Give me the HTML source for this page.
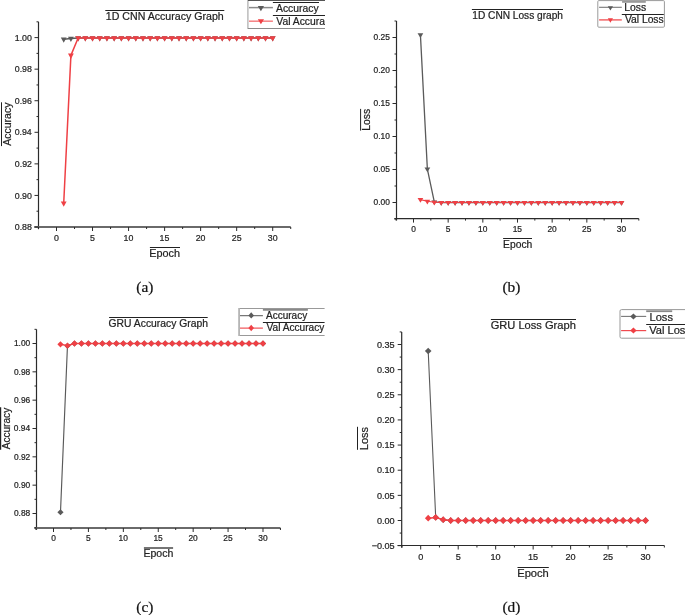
<!DOCTYPE html>
<html><head><meta charset="utf-8"><style>
html,body{margin:0;padding:0;background:#fff;}
body{width:685px;height:615px;overflow:hidden;}
svg{display:block;will-change:transform;}
text{stroke:#2a2a2a;stroke-width:0.22px;paint-order:stroke;}
</style></head><body>
<svg width="685" height="615" viewBox="0 0 685 615">
<defs><clipPath id="clipA"><rect x="0" y="0" width="325" height="40"/></clipPath>
<clipPath id="clipC"><rect x="0" y="300" width="324.6" height="40"/></clipPath></defs>
<rect width="685" height="615" fill="#fff"/>
<polyline points="63.71,39.26 70.91,38.47 78.12,38.00 85.33,38.00 92.53,38.00 99.74,38.00 106.95,38.00 114.16,38.00 121.36,38.00 128.57,38.00 135.78,38.00 142.98,38.00 150.19,38.00 157.40,38.00 164.61,38.00 171.81,38.00 179.02,38.00 186.23,38.00 193.43,38.00 200.64,38.00 207.85,38.00 215.05,38.00 222.26,38.00 229.47,38.00 236.67,38.00 243.88,38.00 251.09,38.00 258.30,38.00 265.50,38.00 272.71,38.00" fill="none" stroke="#5a5a5a" stroke-width="1.5" stroke-linejoin="round"/>
<path d="M60.81 37.46L66.61 37.46L63.71 42.86Z" fill="#5a5a5a"/>
<path d="M68.01 36.67L73.81 36.67L70.91 42.07Z" fill="#5a5a5a"/>
<path d="M75.22 36.20L81.02 36.20L78.12 41.60Z" fill="#5a5a5a"/>
<path d="M82.43 36.20L88.23 36.20L85.33 41.60Z" fill="#5a5a5a"/>
<path d="M89.63 36.20L95.44 36.20L92.53 41.60Z" fill="#5a5a5a"/>
<path d="M96.84 36.20L102.64 36.20L99.74 41.60Z" fill="#5a5a5a"/>
<path d="M104.05 36.20L109.85 36.20L106.95 41.60Z" fill="#5a5a5a"/>
<path d="M111.26 36.20L117.06 36.20L114.16 41.60Z" fill="#5a5a5a"/>
<path d="M118.46 36.20L124.26 36.20L121.36 41.60Z" fill="#5a5a5a"/>
<path d="M125.67 36.20L131.47 36.20L128.57 41.60Z" fill="#5a5a5a"/>
<path d="M132.88 36.20L138.68 36.20L135.78 41.60Z" fill="#5a5a5a"/>
<path d="M140.08 36.20L145.88 36.20L142.98 41.60Z" fill="#5a5a5a"/>
<path d="M147.29 36.20L153.09 36.20L150.19 41.60Z" fill="#5a5a5a"/>
<path d="M154.50 36.20L160.30 36.20L157.40 41.60Z" fill="#5a5a5a"/>
<path d="M161.71 36.20L167.51 36.20L164.61 41.60Z" fill="#5a5a5a"/>
<path d="M168.91 36.20L174.71 36.20L171.81 41.60Z" fill="#5a5a5a"/>
<path d="M176.12 36.20L181.92 36.20L179.02 41.60Z" fill="#5a5a5a"/>
<path d="M183.33 36.20L189.13 36.20L186.23 41.60Z" fill="#5a5a5a"/>
<path d="M190.53 36.20L196.33 36.20L193.43 41.60Z" fill="#5a5a5a"/>
<path d="M197.74 36.20L203.54 36.20L200.64 41.60Z" fill="#5a5a5a"/>
<path d="M204.95 36.20L210.75 36.20L207.85 41.60Z" fill="#5a5a5a"/>
<path d="M212.15 36.20L217.95 36.20L215.05 41.60Z" fill="#5a5a5a"/>
<path d="M219.36 36.20L225.16 36.20L222.26 41.60Z" fill="#5a5a5a"/>
<path d="M226.57 36.20L232.37 36.20L229.47 41.60Z" fill="#5a5a5a"/>
<path d="M233.77 36.20L239.57 36.20L236.67 41.60Z" fill="#5a5a5a"/>
<path d="M240.98 36.20L246.78 36.20L243.88 41.60Z" fill="#5a5a5a"/>
<path d="M248.19 36.20L253.99 36.20L251.09 41.60Z" fill="#5a5a5a"/>
<path d="M255.40 36.20L261.20 36.20L258.30 41.60Z" fill="#5a5a5a"/>
<path d="M262.60 36.20L268.40 36.20L265.50 41.60Z" fill="#5a5a5a"/>
<path d="M269.81 36.20L275.61 36.20L272.71 41.60Z" fill="#5a5a5a"/>
<polyline points="63.71,203.25 70.91,55.36 78.12,38.00 85.33,38.00 92.53,38.00 99.74,38.00 106.95,38.00 114.16,38.00 121.36,38.00 128.57,38.00 135.78,38.00 142.98,38.00 150.19,38.00 157.40,38.00 164.61,38.00 171.81,38.00 179.02,38.00 186.23,38.00 193.43,38.00 200.64,38.00 207.85,38.00 215.05,38.00 222.26,38.00 229.47,38.00 236.67,38.00 243.88,38.00 251.09,38.00 258.30,38.00 265.50,38.00 272.71,38.00" fill="none" stroke="#ef4045" stroke-width="1.5" stroke-linejoin="round"/>
<path d="M60.81 201.45L66.61 201.45L63.71 206.85Z" fill="#ef4045"/>
<path d="M68.01 53.56L73.81 53.56L70.91 58.96Z" fill="#ef4045"/>
<path d="M75.22 36.20L81.02 36.20L78.12 41.60Z" fill="#ef4045"/>
<path d="M82.43 36.20L88.23 36.20L85.33 41.60Z" fill="#ef4045"/>
<path d="M89.63 36.20L95.44 36.20L92.53 41.60Z" fill="#ef4045"/>
<path d="M96.84 36.20L102.64 36.20L99.74 41.60Z" fill="#ef4045"/>
<path d="M104.05 36.20L109.85 36.20L106.95 41.60Z" fill="#ef4045"/>
<path d="M111.26 36.20L117.06 36.20L114.16 41.60Z" fill="#ef4045"/>
<path d="M118.46 36.20L124.26 36.20L121.36 41.60Z" fill="#ef4045"/>
<path d="M125.67 36.20L131.47 36.20L128.57 41.60Z" fill="#ef4045"/>
<path d="M132.88 36.20L138.68 36.20L135.78 41.60Z" fill="#ef4045"/>
<path d="M140.08 36.20L145.88 36.20L142.98 41.60Z" fill="#ef4045"/>
<path d="M147.29 36.20L153.09 36.20L150.19 41.60Z" fill="#ef4045"/>
<path d="M154.50 36.20L160.30 36.20L157.40 41.60Z" fill="#ef4045"/>
<path d="M161.71 36.20L167.51 36.20L164.61 41.60Z" fill="#ef4045"/>
<path d="M168.91 36.20L174.71 36.20L171.81 41.60Z" fill="#ef4045"/>
<path d="M176.12 36.20L181.92 36.20L179.02 41.60Z" fill="#ef4045"/>
<path d="M183.33 36.20L189.13 36.20L186.23 41.60Z" fill="#ef4045"/>
<path d="M190.53 36.20L196.33 36.20L193.43 41.60Z" fill="#ef4045"/>
<path d="M197.74 36.20L203.54 36.20L200.64 41.60Z" fill="#ef4045"/>
<path d="M204.95 36.20L210.75 36.20L207.85 41.60Z" fill="#ef4045"/>
<path d="M212.15 36.20L217.95 36.20L215.05 41.60Z" fill="#ef4045"/>
<path d="M219.36 36.20L225.16 36.20L222.26 41.60Z" fill="#ef4045"/>
<path d="M226.57 36.20L232.37 36.20L229.47 41.60Z" fill="#ef4045"/>
<path d="M233.77 36.20L239.57 36.20L236.67 41.60Z" fill="#ef4045"/>
<path d="M240.98 36.20L246.78 36.20L243.88 41.60Z" fill="#ef4045"/>
<path d="M248.19 36.20L253.99 36.20L251.09 41.60Z" fill="#ef4045"/>
<path d="M255.40 36.20L261.20 36.20L258.30 41.60Z" fill="#ef4045"/>
<path d="M262.60 36.20L268.40 36.20L265.50 41.60Z" fill="#ef4045"/>
<path d="M269.81 36.20L275.61 36.20L272.71 41.60Z" fill="#ef4045"/>
<line x1="38.50" y1="21.82" x2="38.50" y2="229.20" stroke="#2b2b2b" stroke-width="1.2"/>
<line x1="34.30" y1="227.00" x2="290.73" y2="227.00" stroke="#6a6a6a" stroke-width="2"/>
<line x1="34.50" y1="227.00" x2="38.50" y2="227.00" stroke="#2b2b2b" stroke-width="1"/>
<text x="14.74" y="230.08" font-family="Liberation Sans" font-size="8.80" fill="#222">0.88</text>
<line x1="36.50" y1="211.21" x2="38.50" y2="211.21" stroke="#2b2b2b" stroke-width="1"/>
<line x1="34.50" y1="195.43" x2="38.50" y2="195.43" stroke="#2b2b2b" stroke-width="1"/>
<text x="14.74" y="198.51" font-family="Liberation Sans" font-size="8.80" fill="#222">0.90</text>
<line x1="36.50" y1="179.65" x2="38.50" y2="179.65" stroke="#2b2b2b" stroke-width="1"/>
<line x1="34.50" y1="163.86" x2="38.50" y2="163.86" stroke="#2b2b2b" stroke-width="1"/>
<text x="14.82" y="166.94" font-family="Liberation Sans" font-size="8.80" fill="#222">0.92</text>
<line x1="36.50" y1="148.08" x2="38.50" y2="148.08" stroke="#2b2b2b" stroke-width="1"/>
<line x1="34.50" y1="132.30" x2="38.50" y2="132.30" stroke="#2b2b2b" stroke-width="1"/>
<text x="14.65" y="135.38" font-family="Liberation Sans" font-size="8.80" fill="#222">0.94</text>
<line x1="36.50" y1="116.52" x2="38.50" y2="116.52" stroke="#2b2b2b" stroke-width="1"/>
<line x1="34.50" y1="100.73" x2="38.50" y2="100.73" stroke="#2b2b2b" stroke-width="1"/>
<text x="14.78" y="103.81" font-family="Liberation Sans" font-size="8.80" fill="#222">0.96</text>
<line x1="36.50" y1="84.95" x2="38.50" y2="84.95" stroke="#2b2b2b" stroke-width="1"/>
<line x1="34.50" y1="69.17" x2="38.50" y2="69.17" stroke="#2b2b2b" stroke-width="1"/>
<text x="14.74" y="72.25" font-family="Liberation Sans" font-size="8.80" fill="#222">0.98</text>
<line x1="36.50" y1="53.38" x2="38.50" y2="53.38" stroke="#2b2b2b" stroke-width="1"/>
<line x1="34.50" y1="37.60" x2="38.50" y2="37.60" stroke="#2b2b2b" stroke-width="1"/>
<text x="14.74" y="40.68" font-family="Liberation Sans" font-size="8.80" fill="#222">1.00</text>
<line x1="36.50" y1="21.82" x2="38.50" y2="21.82" stroke="#2b2b2b" stroke-width="1"/>
<line x1="38.48" y1="227.00" x2="38.48" y2="229.00" stroke="#2b2b2b" stroke-width="1"/>
<line x1="56.50" y1="227.00" x2="56.50" y2="231.00" stroke="#2b2b2b" stroke-width="1"/>
<text x="54.06" y="240.50" font-family="Liberation Sans" font-size="8.80" fill="#222">0</text>
<line x1="74.52" y1="227.00" x2="74.52" y2="229.00" stroke="#2b2b2b" stroke-width="1"/>
<line x1="92.53" y1="227.00" x2="92.53" y2="231.00" stroke="#2b2b2b" stroke-width="1"/>
<text x="90.09" y="240.50" font-family="Liberation Sans" font-size="8.80" fill="#222">5</text>
<line x1="110.55" y1="227.00" x2="110.55" y2="229.00" stroke="#2b2b2b" stroke-width="1"/>
<line x1="128.57" y1="227.00" x2="128.57" y2="231.00" stroke="#2b2b2b" stroke-width="1"/>
<text x="123.53" y="240.50" font-family="Liberation Sans" font-size="8.80" fill="#222">10</text>
<line x1="146.59" y1="227.00" x2="146.59" y2="229.00" stroke="#2b2b2b" stroke-width="1"/>
<line x1="164.61" y1="227.00" x2="164.61" y2="231.00" stroke="#2b2b2b" stroke-width="1"/>
<text x="159.57" y="240.50" font-family="Liberation Sans" font-size="8.80" fill="#222">15</text>
<line x1="182.62" y1="227.00" x2="182.62" y2="229.00" stroke="#2b2b2b" stroke-width="1"/>
<line x1="200.64" y1="227.00" x2="200.64" y2="231.00" stroke="#2b2b2b" stroke-width="1"/>
<text x="195.71" y="240.50" font-family="Liberation Sans" font-size="8.80" fill="#222">20</text>
<line x1="218.66" y1="227.00" x2="218.66" y2="229.00" stroke="#2b2b2b" stroke-width="1"/>
<line x1="236.67" y1="227.00" x2="236.67" y2="231.00" stroke="#2b2b2b" stroke-width="1"/>
<text x="231.75" y="240.50" font-family="Liberation Sans" font-size="8.80" fill="#222">25</text>
<line x1="254.69" y1="227.00" x2="254.69" y2="229.00" stroke="#2b2b2b" stroke-width="1"/>
<line x1="272.71" y1="227.00" x2="272.71" y2="231.00" stroke="#2b2b2b" stroke-width="1"/>
<text x="267.83" y="240.50" font-family="Liberation Sans" font-size="8.80" fill="#222">30</text>
<line x1="290.73" y1="227.00" x2="290.73" y2="229.00" stroke="#2b2b2b" stroke-width="1"/>
<polyline points="420.43,34.86 427.37,169.17 434.30,201.97 441.23,202.50 448.17,202.50 455.10,202.50 462.03,202.50 468.96,202.50 475.90,202.50 482.83,202.50 489.76,202.50 496.70,202.50 503.63,202.50 510.56,202.50 517.50,202.50 524.43,202.50 531.36,202.50 538.29,202.50 545.23,202.50 552.16,202.50 559.09,202.50 566.03,202.50 572.96,202.50 579.89,202.50 586.83,202.50 593.76,202.50 600.69,202.50 607.62,202.50 614.56,202.50 621.49,202.50" fill="none" stroke="#5a5a5a" stroke-width="1.3" stroke-linejoin="round"/>
<path d="M417.58 33.29L423.28 33.29L420.43 37.99Z" fill="#5a5a5a"/>
<path d="M424.52 167.60L430.22 167.60L427.37 172.30Z" fill="#5a5a5a"/>
<path d="M431.45 200.41L437.15 200.41L434.30 205.11Z" fill="#5a5a5a"/>
<path d="M438.38 200.93L444.08 200.93L441.23 205.63Z" fill="#5a5a5a"/>
<path d="M445.31 200.93L451.02 200.93L448.17 205.63Z" fill="#5a5a5a"/>
<path d="M452.25 200.93L457.95 200.93L455.10 205.63Z" fill="#5a5a5a"/>
<path d="M459.18 200.93L464.88 200.93L462.03 205.63Z" fill="#5a5a5a"/>
<path d="M466.11 200.93L471.81 200.93L468.96 205.63Z" fill="#5a5a5a"/>
<path d="M473.05 200.93L478.75 200.93L475.90 205.63Z" fill="#5a5a5a"/>
<path d="M479.98 200.93L485.68 200.93L482.83 205.63Z" fill="#5a5a5a"/>
<path d="M486.91 200.93L492.61 200.93L489.76 205.63Z" fill="#5a5a5a"/>
<path d="M493.85 200.93L499.55 200.93L496.70 205.63Z" fill="#5a5a5a"/>
<path d="M500.78 200.93L506.48 200.93L503.63 205.63Z" fill="#5a5a5a"/>
<path d="M507.71 200.93L513.41 200.93L510.56 205.63Z" fill="#5a5a5a"/>
<path d="M514.64 200.93L520.35 200.93L517.50 205.63Z" fill="#5a5a5a"/>
<path d="M521.58 200.93L527.28 200.93L524.43 205.63Z" fill="#5a5a5a"/>
<path d="M528.51 200.93L534.21 200.93L531.36 205.63Z" fill="#5a5a5a"/>
<path d="M535.44 200.93L541.14 200.93L538.29 205.63Z" fill="#5a5a5a"/>
<path d="M542.38 200.93L548.08 200.93L545.23 205.63Z" fill="#5a5a5a"/>
<path d="M549.31 200.93L555.01 200.93L552.16 205.63Z" fill="#5a5a5a"/>
<path d="M556.24 200.93L561.94 200.93L559.09 205.63Z" fill="#5a5a5a"/>
<path d="M563.18 200.93L568.88 200.93L566.03 205.63Z" fill="#5a5a5a"/>
<path d="M570.11 200.93L575.81 200.93L572.96 205.63Z" fill="#5a5a5a"/>
<path d="M577.04 200.93L582.74 200.93L579.89 205.63Z" fill="#5a5a5a"/>
<path d="M583.98 200.93L589.68 200.93L586.83 205.63Z" fill="#5a5a5a"/>
<path d="M590.91 200.93L596.61 200.93L593.76 205.63Z" fill="#5a5a5a"/>
<path d="M597.84 200.93L603.54 200.93L600.69 205.63Z" fill="#5a5a5a"/>
<path d="M604.77 200.93L610.47 200.93L607.62 205.63Z" fill="#5a5a5a"/>
<path d="M611.71 200.93L617.41 200.93L614.56 205.63Z" fill="#5a5a5a"/>
<path d="M618.64 200.93L624.34 200.93L621.49 205.63Z" fill="#5a5a5a"/>
<polyline points="420.43,199.66 427.37,201.31 434.30,202.30 441.23,202.50 448.17,202.50 455.10,202.50 462.03,202.50 468.96,202.50 475.90,202.50 482.83,202.50 489.76,202.50 496.70,202.50 503.63,202.50 510.56,202.50 517.50,202.50 524.43,202.50 531.36,202.50 538.29,202.50 545.23,202.50 552.16,202.50 559.09,202.50 566.03,202.50 572.96,202.50 579.89,202.50 586.83,202.50 593.76,202.50 600.69,202.50 607.62,202.50 614.56,202.50 621.49,202.50" fill="none" stroke="#ef4045" stroke-width="1.1" stroke-linejoin="round"/>
<path d="M417.58 198.10L423.28 198.10L420.43 202.80Z" fill="#ef4045"/>
<path d="M424.52 199.75L430.22 199.75L427.37 204.45Z" fill="#ef4045"/>
<path d="M431.45 200.74L437.15 200.74L434.30 205.44Z" fill="#ef4045"/>
<path d="M438.38 200.93L444.08 200.93L441.23 205.63Z" fill="#ef4045"/>
<path d="M445.31 200.93L451.02 200.93L448.17 205.63Z" fill="#ef4045"/>
<path d="M452.25 200.93L457.95 200.93L455.10 205.63Z" fill="#ef4045"/>
<path d="M459.18 200.93L464.88 200.93L462.03 205.63Z" fill="#ef4045"/>
<path d="M466.11 200.93L471.81 200.93L468.96 205.63Z" fill="#ef4045"/>
<path d="M473.05 200.93L478.75 200.93L475.90 205.63Z" fill="#ef4045"/>
<path d="M479.98 200.93L485.68 200.93L482.83 205.63Z" fill="#ef4045"/>
<path d="M486.91 200.93L492.61 200.93L489.76 205.63Z" fill="#ef4045"/>
<path d="M493.85 200.93L499.55 200.93L496.70 205.63Z" fill="#ef4045"/>
<path d="M500.78 200.93L506.48 200.93L503.63 205.63Z" fill="#ef4045"/>
<path d="M507.71 200.93L513.41 200.93L510.56 205.63Z" fill="#ef4045"/>
<path d="M514.64 200.93L520.35 200.93L517.50 205.63Z" fill="#ef4045"/>
<path d="M521.58 200.93L527.28 200.93L524.43 205.63Z" fill="#ef4045"/>
<path d="M528.51 200.93L534.21 200.93L531.36 205.63Z" fill="#ef4045"/>
<path d="M535.44 200.93L541.14 200.93L538.29 205.63Z" fill="#ef4045"/>
<path d="M542.38 200.93L548.08 200.93L545.23 205.63Z" fill="#ef4045"/>
<path d="M549.31 200.93L555.01 200.93L552.16 205.63Z" fill="#ef4045"/>
<path d="M556.24 200.93L561.94 200.93L559.09 205.63Z" fill="#ef4045"/>
<path d="M563.18 200.93L568.88 200.93L566.03 205.63Z" fill="#ef4045"/>
<path d="M570.11 200.93L575.81 200.93L572.96 205.63Z" fill="#ef4045"/>
<path d="M577.04 200.93L582.74 200.93L579.89 205.63Z" fill="#ef4045"/>
<path d="M583.98 200.93L589.68 200.93L586.83 205.63Z" fill="#ef4045"/>
<path d="M590.91 200.93L596.61 200.93L593.76 205.63Z" fill="#ef4045"/>
<path d="M597.84 200.93L603.54 200.93L600.69 205.63Z" fill="#ef4045"/>
<path d="M604.77 200.93L610.47 200.93L607.62 205.63Z" fill="#ef4045"/>
<path d="M611.71 200.93L617.41 200.93L614.56 205.63Z" fill="#ef4045"/>
<path d="M618.64 200.93L624.34 200.93L621.49 205.63Z" fill="#ef4045"/>
<line x1="396.50" y1="21.00" x2="396.50" y2="220.40" stroke="#2b2b2b" stroke-width="1.2"/>
<line x1="394.30" y1="218.60" x2="638.82" y2="218.60" stroke="#2b2b2b" stroke-width="1.2"/>
<line x1="394.50" y1="219.00" x2="396.50" y2="219.00" stroke="#2b2b2b" stroke-width="1"/>
<line x1="392.50" y1="202.50" x2="396.50" y2="202.50" stroke="#2b2b2b" stroke-width="1"/>
<text x="373.60" y="205.44" font-family="Liberation Sans" font-size="8.40" fill="#222">0.00</text>
<line x1="394.50" y1="186.00" x2="396.50" y2="186.00" stroke="#2b2b2b" stroke-width="1"/>
<line x1="392.50" y1="169.50" x2="396.50" y2="169.50" stroke="#2b2b2b" stroke-width="1"/>
<text x="373.60" y="172.44" font-family="Liberation Sans" font-size="8.40" fill="#222">0.05</text>
<line x1="394.50" y1="153.00" x2="396.50" y2="153.00" stroke="#2b2b2b" stroke-width="1"/>
<line x1="392.50" y1="136.50" x2="396.50" y2="136.50" stroke="#2b2b2b" stroke-width="1"/>
<text x="373.60" y="139.44" font-family="Liberation Sans" font-size="8.40" fill="#222">0.10</text>
<line x1="394.50" y1="120.00" x2="396.50" y2="120.00" stroke="#2b2b2b" stroke-width="1"/>
<line x1="392.50" y1="103.50" x2="396.50" y2="103.50" stroke="#2b2b2b" stroke-width="1"/>
<text x="373.60" y="106.44" font-family="Liberation Sans" font-size="8.40" fill="#222">0.15</text>
<line x1="394.50" y1="87.00" x2="396.50" y2="87.00" stroke="#2b2b2b" stroke-width="1"/>
<line x1="392.50" y1="70.50" x2="396.50" y2="70.50" stroke="#2b2b2b" stroke-width="1"/>
<text x="373.60" y="73.44" font-family="Liberation Sans" font-size="8.40" fill="#222">0.20</text>
<line x1="394.50" y1="54.00" x2="396.50" y2="54.00" stroke="#2b2b2b" stroke-width="1"/>
<line x1="392.50" y1="37.50" x2="396.50" y2="37.50" stroke="#2b2b2b" stroke-width="1"/>
<text x="373.60" y="40.44" font-family="Liberation Sans" font-size="8.40" fill="#222">0.25</text>
<line x1="394.50" y1="21.00" x2="396.50" y2="21.00" stroke="#2b2b2b" stroke-width="1"/>
<line x1="396.17" y1="218.60" x2="396.17" y2="220.60" stroke="#2b2b2b" stroke-width="1"/>
<line x1="413.50" y1="218.60" x2="413.50" y2="222.60" stroke="#2b2b2b" stroke-width="1"/>
<text x="411.17" y="231.50" font-family="Liberation Sans" font-size="8.40" fill="#222">0</text>
<line x1="430.83" y1="218.60" x2="430.83" y2="220.60" stroke="#2b2b2b" stroke-width="1"/>
<line x1="448.17" y1="218.60" x2="448.17" y2="222.60" stroke="#2b2b2b" stroke-width="1"/>
<text x="445.83" y="231.50" font-family="Liberation Sans" font-size="8.40" fill="#222">5</text>
<line x1="465.50" y1="218.60" x2="465.50" y2="220.60" stroke="#2b2b2b" stroke-width="1"/>
<line x1="482.83" y1="218.60" x2="482.83" y2="222.60" stroke="#2b2b2b" stroke-width="1"/>
<text x="478.02" y="231.50" font-family="Liberation Sans" font-size="8.40" fill="#222">10</text>
<line x1="500.16" y1="218.60" x2="500.16" y2="220.60" stroke="#2b2b2b" stroke-width="1"/>
<line x1="517.50" y1="218.60" x2="517.50" y2="222.60" stroke="#2b2b2b" stroke-width="1"/>
<text x="512.69" y="231.50" font-family="Liberation Sans" font-size="8.40" fill="#222">15</text>
<line x1="534.83" y1="218.60" x2="534.83" y2="220.60" stroke="#2b2b2b" stroke-width="1"/>
<line x1="552.16" y1="218.60" x2="552.16" y2="222.60" stroke="#2b2b2b" stroke-width="1"/>
<text x="547.46" y="231.50" font-family="Liberation Sans" font-size="8.40" fill="#222">20</text>
<line x1="569.49" y1="218.60" x2="569.49" y2="220.60" stroke="#2b2b2b" stroke-width="1"/>
<line x1="586.83" y1="218.60" x2="586.83" y2="222.60" stroke="#2b2b2b" stroke-width="1"/>
<text x="582.12" y="231.50" font-family="Liberation Sans" font-size="8.40" fill="#222">25</text>
<line x1="604.16" y1="218.60" x2="604.16" y2="220.60" stroke="#2b2b2b" stroke-width="1"/>
<line x1="621.49" y1="218.60" x2="621.49" y2="222.60" stroke="#2b2b2b" stroke-width="1"/>
<text x="616.83" y="231.50" font-family="Liberation Sans" font-size="8.40" fill="#222">30</text>
<line x1="638.82" y1="218.60" x2="638.82" y2="220.60" stroke="#2b2b2b" stroke-width="1"/>
<polyline points="60.48,512.37 67.47,345.63 74.45,343.50 81.43,343.50 88.41,343.50 95.40,343.50 102.38,343.50 109.36,343.50 116.35,343.50 123.33,343.50 130.31,343.50 137.30,343.50 144.28,343.50 151.26,343.50 158.25,343.50 165.23,343.50 172.21,343.50 179.19,343.50 186.18,343.50 193.16,343.50 200.14,343.50 207.13,343.50 214.11,343.50 221.09,343.50 228.07,343.50 235.06,343.50 242.04,343.50 249.02,343.50 256.01,343.50 262.99,343.50" fill="none" stroke="#5a5a5a" stroke-width="1.15" stroke-linejoin="round"/>
<path d="M60.48 509.37L63.58 512.37L60.48 515.37L57.38 512.37Z" fill="#5a5a5a"/>
<path d="M67.47 342.63L70.57 345.63L67.47 348.63L64.37 345.63Z" fill="#5a5a5a"/>
<path d="M74.45 340.50L77.55 343.50L74.45 346.50L71.35 343.50Z" fill="#5a5a5a"/>
<path d="M81.43 340.50L84.53 343.50L81.43 346.50L78.33 343.50Z" fill="#5a5a5a"/>
<path d="M88.41 340.50L91.51 343.50L88.41 346.50L85.31 343.50Z" fill="#5a5a5a"/>
<path d="M95.40 340.50L98.50 343.50L95.40 346.50L92.30 343.50Z" fill="#5a5a5a"/>
<path d="M102.38 340.50L105.48 343.50L102.38 346.50L99.28 343.50Z" fill="#5a5a5a"/>
<path d="M109.36 340.50L112.46 343.50L109.36 346.50L106.26 343.50Z" fill="#5a5a5a"/>
<path d="M116.35 340.50L119.45 343.50L116.35 346.50L113.25 343.50Z" fill="#5a5a5a"/>
<path d="M123.33 340.50L126.43 343.50L123.33 346.50L120.23 343.50Z" fill="#5a5a5a"/>
<path d="M130.31 340.50L133.41 343.50L130.31 346.50L127.21 343.50Z" fill="#5a5a5a"/>
<path d="M137.30 340.50L140.40 343.50L137.30 346.50L134.20 343.50Z" fill="#5a5a5a"/>
<path d="M144.28 340.50L147.38 343.50L144.28 346.50L141.18 343.50Z" fill="#5a5a5a"/>
<path d="M151.26 340.50L154.36 343.50L151.26 346.50L148.16 343.50Z" fill="#5a5a5a"/>
<path d="M158.25 340.50L161.34 343.50L158.25 346.50L155.15 343.50Z" fill="#5a5a5a"/>
<path d="M165.23 340.50L168.33 343.50L165.23 346.50L162.13 343.50Z" fill="#5a5a5a"/>
<path d="M172.21 340.50L175.31 343.50L172.21 346.50L169.11 343.50Z" fill="#5a5a5a"/>
<path d="M179.19 340.50L182.29 343.50L179.19 346.50L176.09 343.50Z" fill="#5a5a5a"/>
<path d="M186.18 340.50L189.28 343.50L186.18 346.50L183.08 343.50Z" fill="#5a5a5a"/>
<path d="M193.16 340.50L196.26 343.50L193.16 346.50L190.06 343.50Z" fill="#5a5a5a"/>
<path d="M200.14 340.50L203.24 343.50L200.14 346.50L197.04 343.50Z" fill="#5a5a5a"/>
<path d="M207.13 340.50L210.23 343.50L207.13 346.50L204.03 343.50Z" fill="#5a5a5a"/>
<path d="M214.11 340.50L217.21 343.50L214.11 346.50L211.01 343.50Z" fill="#5a5a5a"/>
<path d="M221.09 340.50L224.19 343.50L221.09 346.50L217.99 343.50Z" fill="#5a5a5a"/>
<path d="M228.07 340.50L231.17 343.50L228.07 346.50L224.97 343.50Z" fill="#5a5a5a"/>
<path d="M235.06 340.50L238.16 343.50L235.06 346.50L231.96 343.50Z" fill="#5a5a5a"/>
<path d="M242.04 340.50L245.14 343.50L242.04 346.50L238.94 343.50Z" fill="#5a5a5a"/>
<path d="M249.02 340.50L252.12 343.50L249.02 346.50L245.92 343.50Z" fill="#5a5a5a"/>
<path d="M256.01 340.50L259.11 343.50L256.01 346.50L252.91 343.50Z" fill="#5a5a5a"/>
<path d="M262.99 340.50L266.09 343.50L262.99 346.50L259.89 343.50Z" fill="#5a5a5a"/>
<polyline points="60.48,344.35 67.47,345.63 74.45,343.50 81.43,343.50 88.41,343.50 95.40,343.50 102.38,343.50 109.36,343.50 116.35,343.50 123.33,343.50 130.31,343.50 137.30,343.50 144.28,343.50 151.26,343.50 158.25,343.50 165.23,343.50 172.21,343.50 179.19,343.50 186.18,343.50 193.16,343.50 200.14,343.50 207.13,343.50 214.11,343.50 221.09,343.50 228.07,343.50 235.06,343.50 242.04,343.50 249.02,343.50 256.01,343.50 262.99,343.50" fill="none" stroke="#ef4045" stroke-width="1.5" stroke-linejoin="round"/>
<path d="M60.48 341.15L63.58 344.35L60.48 347.55L57.38 344.35Z" fill="#ef4045"/>
<path d="M67.47 342.43L70.57 345.63L67.47 348.83L64.37 345.63Z" fill="#ef4045"/>
<path d="M74.45 340.30L77.55 343.50L74.45 346.70L71.35 343.50Z" fill="#ef4045"/>
<path d="M81.43 340.30L84.53 343.50L81.43 346.70L78.33 343.50Z" fill="#ef4045"/>
<path d="M88.41 340.30L91.51 343.50L88.41 346.70L85.31 343.50Z" fill="#ef4045"/>
<path d="M95.40 340.30L98.50 343.50L95.40 346.70L92.30 343.50Z" fill="#ef4045"/>
<path d="M102.38 340.30L105.48 343.50L102.38 346.70L99.28 343.50Z" fill="#ef4045"/>
<path d="M109.36 340.30L112.46 343.50L109.36 346.70L106.26 343.50Z" fill="#ef4045"/>
<path d="M116.35 340.30L119.45 343.50L116.35 346.70L113.25 343.50Z" fill="#ef4045"/>
<path d="M123.33 340.30L126.43 343.50L123.33 346.70L120.23 343.50Z" fill="#ef4045"/>
<path d="M130.31 340.30L133.41 343.50L130.31 346.70L127.21 343.50Z" fill="#ef4045"/>
<path d="M137.30 340.30L140.40 343.50L137.30 346.70L134.20 343.50Z" fill="#ef4045"/>
<path d="M144.28 340.30L147.38 343.50L144.28 346.70L141.18 343.50Z" fill="#ef4045"/>
<path d="M151.26 340.30L154.36 343.50L151.26 346.70L148.16 343.50Z" fill="#ef4045"/>
<path d="M158.25 340.30L161.34 343.50L158.25 346.70L155.15 343.50Z" fill="#ef4045"/>
<path d="M165.23 340.30L168.33 343.50L165.23 346.70L162.13 343.50Z" fill="#ef4045"/>
<path d="M172.21 340.30L175.31 343.50L172.21 346.70L169.11 343.50Z" fill="#ef4045"/>
<path d="M179.19 340.30L182.29 343.50L179.19 346.70L176.09 343.50Z" fill="#ef4045"/>
<path d="M186.18 340.30L189.28 343.50L186.18 346.70L183.08 343.50Z" fill="#ef4045"/>
<path d="M193.16 340.30L196.26 343.50L193.16 346.70L190.06 343.50Z" fill="#ef4045"/>
<path d="M200.14 340.30L203.24 343.50L200.14 346.70L197.04 343.50Z" fill="#ef4045"/>
<path d="M207.13 340.30L210.23 343.50L207.13 346.70L204.03 343.50Z" fill="#ef4045"/>
<path d="M214.11 340.30L217.21 343.50L214.11 346.70L211.01 343.50Z" fill="#ef4045"/>
<path d="M221.09 340.30L224.19 343.50L221.09 346.70L217.99 343.50Z" fill="#ef4045"/>
<path d="M228.07 340.30L231.17 343.50L228.07 346.70L224.97 343.50Z" fill="#ef4045"/>
<path d="M235.06 340.30L238.16 343.50L235.06 346.70L231.96 343.50Z" fill="#ef4045"/>
<path d="M242.04 340.30L245.14 343.50L242.04 346.70L238.94 343.50Z" fill="#ef4045"/>
<path d="M249.02 340.30L252.12 343.50L249.02 346.70L245.92 343.50Z" fill="#ef4045"/>
<path d="M256.01 340.30L259.11 343.50L256.01 346.70L252.91 343.50Z" fill="#ef4045"/>
<path d="M262.99 340.30L266.09 343.50L262.99 346.70L259.89 343.50Z" fill="#ef4045"/>
<line x1="36.50" y1="329.33" x2="36.50" y2="529.80" stroke="#2b2b2b" stroke-width="1.2"/>
<line x1="34.30" y1="528.00" x2="280.45" y2="528.00" stroke="#6a6a6a" stroke-width="2"/>
<line x1="34.50" y1="527.67" x2="36.50" y2="527.67" stroke="#2b2b2b" stroke-width="1"/>
<line x1="32.50" y1="513.50" x2="36.50" y2="513.50" stroke="#2b2b2b" stroke-width="1"/>
<text x="13.90" y="516.44" font-family="Liberation Sans" font-size="8.40" fill="#222">0.88</text>
<line x1="34.50" y1="499.34" x2="36.50" y2="499.34" stroke="#2b2b2b" stroke-width="1"/>
<line x1="32.50" y1="485.17" x2="36.50" y2="485.17" stroke="#2b2b2b" stroke-width="1"/>
<text x="13.90" y="488.11" font-family="Liberation Sans" font-size="8.40" fill="#222">0.90</text>
<line x1="34.50" y1="471.00" x2="36.50" y2="471.00" stroke="#2b2b2b" stroke-width="1"/>
<line x1="32.50" y1="456.84" x2="36.50" y2="456.84" stroke="#2b2b2b" stroke-width="1"/>
<text x="13.98" y="459.78" font-family="Liberation Sans" font-size="8.40" fill="#222">0.92</text>
<line x1="34.50" y1="442.67" x2="36.50" y2="442.67" stroke="#2b2b2b" stroke-width="1"/>
<line x1="32.50" y1="428.50" x2="36.50" y2="428.50" stroke="#2b2b2b" stroke-width="1"/>
<text x="13.81" y="431.44" font-family="Liberation Sans" font-size="8.40" fill="#222">0.94</text>
<line x1="34.50" y1="414.34" x2="36.50" y2="414.34" stroke="#2b2b2b" stroke-width="1"/>
<line x1="32.50" y1="400.17" x2="36.50" y2="400.17" stroke="#2b2b2b" stroke-width="1"/>
<text x="13.94" y="403.11" font-family="Liberation Sans" font-size="8.40" fill="#222">0.96</text>
<line x1="34.50" y1="386.00" x2="36.50" y2="386.00" stroke="#2b2b2b" stroke-width="1"/>
<line x1="32.50" y1="371.83" x2="36.50" y2="371.83" stroke="#2b2b2b" stroke-width="1"/>
<text x="13.90" y="374.77" font-family="Liberation Sans" font-size="8.40" fill="#222">0.98</text>
<line x1="34.50" y1="357.67" x2="36.50" y2="357.67" stroke="#2b2b2b" stroke-width="1"/>
<line x1="32.50" y1="343.50" x2="36.50" y2="343.50" stroke="#2b2b2b" stroke-width="1"/>
<text x="13.90" y="346.44" font-family="Liberation Sans" font-size="8.40" fill="#222">1.00</text>
<line x1="34.50" y1="329.33" x2="36.50" y2="329.33" stroke="#2b2b2b" stroke-width="1"/>
<line x1="36.04" y1="528.00" x2="36.04" y2="530.00" stroke="#2b2b2b" stroke-width="1"/>
<line x1="53.50" y1="528.00" x2="53.50" y2="532.00" stroke="#2b2b2b" stroke-width="1"/>
<text x="51.17" y="540.90" font-family="Liberation Sans" font-size="8.40" fill="#222">0</text>
<line x1="70.96" y1="528.00" x2="70.96" y2="530.00" stroke="#2b2b2b" stroke-width="1"/>
<line x1="88.41" y1="528.00" x2="88.41" y2="532.00" stroke="#2b2b2b" stroke-width="1"/>
<text x="86.08" y="540.90" font-family="Liberation Sans" font-size="8.40" fill="#222">5</text>
<line x1="105.87" y1="528.00" x2="105.87" y2="530.00" stroke="#2b2b2b" stroke-width="1"/>
<line x1="123.33" y1="528.00" x2="123.33" y2="532.00" stroke="#2b2b2b" stroke-width="1"/>
<text x="118.52" y="540.90" font-family="Liberation Sans" font-size="8.40" fill="#222">10</text>
<line x1="140.79" y1="528.00" x2="140.79" y2="530.00" stroke="#2b2b2b" stroke-width="1"/>
<line x1="158.25" y1="528.00" x2="158.25" y2="532.00" stroke="#2b2b2b" stroke-width="1"/>
<text x="153.44" y="540.90" font-family="Liberation Sans" font-size="8.40" fill="#222">15</text>
<line x1="175.70" y1="528.00" x2="175.70" y2="530.00" stroke="#2b2b2b" stroke-width="1"/>
<line x1="193.16" y1="528.00" x2="193.16" y2="532.00" stroke="#2b2b2b" stroke-width="1"/>
<text x="188.46" y="540.90" font-family="Liberation Sans" font-size="8.40" fill="#222">20</text>
<line x1="210.62" y1="528.00" x2="210.62" y2="530.00" stroke="#2b2b2b" stroke-width="1"/>
<line x1="228.07" y1="528.00" x2="228.07" y2="532.00" stroke="#2b2b2b" stroke-width="1"/>
<text x="223.37" y="540.90" font-family="Liberation Sans" font-size="8.40" fill="#222">25</text>
<line x1="245.53" y1="528.00" x2="245.53" y2="530.00" stroke="#2b2b2b" stroke-width="1"/>
<line x1="262.99" y1="528.00" x2="262.99" y2="532.00" stroke="#2b2b2b" stroke-width="1"/>
<text x="258.33" y="540.90" font-family="Liberation Sans" font-size="8.40" fill="#222">30</text>
<line x1="280.45" y1="528.00" x2="280.45" y2="530.00" stroke="#2b2b2b" stroke-width="1"/>
<polyline points="428.20,351.04 435.69,517.38 443.19,519.70 450.69,520.50 458.19,520.50 465.68,520.50 473.18,520.50 480.68,520.50 488.17,520.50 495.67,520.50 503.17,520.50 510.66,520.50 518.16,520.50 525.66,520.50 533.15,520.50 540.65,520.50 548.15,520.50 555.65,520.50 563.14,520.50 570.64,520.50 578.14,520.50 585.63,520.50 593.13,520.50 600.63,520.50 608.12,520.50 615.62,520.50 623.12,520.50 630.62,520.50 638.11,520.50 645.61,520.50" fill="none" stroke="#5a5a5a" stroke-width="1.1" stroke-linejoin="round"/>
<path d="M428.20 347.84L431.50 351.04L428.20 354.24L424.90 351.04Z" fill="#5a5a5a"/>
<path d="M435.69 514.18L438.99 517.38L435.69 520.58L432.39 517.38Z" fill="#5a5a5a"/>
<path d="M443.19 516.50L446.49 519.70L443.19 522.90L439.89 519.70Z" fill="#5a5a5a"/>
<path d="M450.69 517.30L453.99 520.50L450.69 523.70L447.39 520.50Z" fill="#5a5a5a"/>
<path d="M458.19 517.30L461.49 520.50L458.19 523.70L454.88 520.50Z" fill="#5a5a5a"/>
<path d="M465.68 517.30L468.98 520.50L465.68 523.70L462.38 520.50Z" fill="#5a5a5a"/>
<path d="M473.18 517.30L476.48 520.50L473.18 523.70L469.88 520.50Z" fill="#5a5a5a"/>
<path d="M480.68 517.30L483.98 520.50L480.68 523.70L477.38 520.50Z" fill="#5a5a5a"/>
<path d="M488.17 517.30L491.47 520.50L488.17 523.70L484.87 520.50Z" fill="#5a5a5a"/>
<path d="M495.67 517.30L498.97 520.50L495.67 523.70L492.37 520.50Z" fill="#5a5a5a"/>
<path d="M503.17 517.30L506.47 520.50L503.17 523.70L499.87 520.50Z" fill="#5a5a5a"/>
<path d="M510.66 517.30L513.96 520.50L510.66 523.70L507.36 520.50Z" fill="#5a5a5a"/>
<path d="M518.16 517.30L521.46 520.50L518.16 523.70L514.86 520.50Z" fill="#5a5a5a"/>
<path d="M525.66 517.30L528.96 520.50L525.66 523.70L522.36 520.50Z" fill="#5a5a5a"/>
<path d="M533.15 517.30L536.45 520.50L533.15 523.70L529.86 520.50Z" fill="#5a5a5a"/>
<path d="M540.65 517.30L543.95 520.50L540.65 523.70L537.35 520.50Z" fill="#5a5a5a"/>
<path d="M548.15 517.30L551.45 520.50L548.15 523.70L544.85 520.50Z" fill="#5a5a5a"/>
<path d="M555.65 517.30L558.95 520.50L555.65 523.70L552.35 520.50Z" fill="#5a5a5a"/>
<path d="M563.14 517.30L566.44 520.50L563.14 523.70L559.84 520.50Z" fill="#5a5a5a"/>
<path d="M570.64 517.30L573.94 520.50L570.64 523.70L567.34 520.50Z" fill="#5a5a5a"/>
<path d="M578.14 517.30L581.44 520.50L578.14 523.70L574.84 520.50Z" fill="#5a5a5a"/>
<path d="M585.63 517.30L588.93 520.50L585.63 523.70L582.33 520.50Z" fill="#5a5a5a"/>
<path d="M593.13 517.30L596.43 520.50L593.13 523.70L589.83 520.50Z" fill="#5a5a5a"/>
<path d="M600.63 517.30L603.93 520.50L600.63 523.70L597.33 520.50Z" fill="#5a5a5a"/>
<path d="M608.12 517.30L611.42 520.50L608.12 523.70L604.83 520.50Z" fill="#5a5a5a"/>
<path d="M615.62 517.30L618.92 520.50L615.62 523.70L612.32 520.50Z" fill="#5a5a5a"/>
<path d="M623.12 517.30L626.42 520.50L623.12 523.70L619.82 520.50Z" fill="#5a5a5a"/>
<path d="M630.62 517.30L633.92 520.50L630.62 523.70L627.32 520.50Z" fill="#5a5a5a"/>
<path d="M638.11 517.30L641.41 520.50L638.11 523.70L634.81 520.50Z" fill="#5a5a5a"/>
<path d="M645.61 517.30L648.91 520.50L645.61 523.70L642.31 520.50Z" fill="#5a5a5a"/>
<polyline points="428.20,518.19 435.69,517.38 443.19,519.70 450.69,520.50 458.19,520.50 465.68,520.50 473.18,520.50 480.68,520.50 488.17,520.50 495.67,520.50 503.17,520.50 510.66,520.50 518.16,520.50 525.66,520.50 533.15,520.50 540.65,520.50 548.15,520.50 555.65,520.50 563.14,520.50 570.64,520.50 578.14,520.50 585.63,520.50 593.13,520.50 600.63,520.50 608.12,520.50 615.62,520.50 623.12,520.50 630.62,520.50 638.11,520.50 645.61,520.50" fill="none" stroke="#ef4045" stroke-width="1.5" stroke-linejoin="round"/>
<path d="M428.20 514.79L431.50 518.19L428.20 521.59L424.90 518.19Z" fill="#ef4045"/>
<path d="M435.69 513.98L438.99 517.38L435.69 520.78L432.39 517.38Z" fill="#ef4045"/>
<path d="M443.19 516.30L446.49 519.70L443.19 523.10L439.89 519.70Z" fill="#ef4045"/>
<path d="M450.69 517.10L453.99 520.50L450.69 523.90L447.39 520.50Z" fill="#ef4045"/>
<path d="M458.19 517.10L461.49 520.50L458.19 523.90L454.88 520.50Z" fill="#ef4045"/>
<path d="M465.68 517.10L468.98 520.50L465.68 523.90L462.38 520.50Z" fill="#ef4045"/>
<path d="M473.18 517.10L476.48 520.50L473.18 523.90L469.88 520.50Z" fill="#ef4045"/>
<path d="M480.68 517.10L483.98 520.50L480.68 523.90L477.38 520.50Z" fill="#ef4045"/>
<path d="M488.17 517.10L491.47 520.50L488.17 523.90L484.87 520.50Z" fill="#ef4045"/>
<path d="M495.67 517.10L498.97 520.50L495.67 523.90L492.37 520.50Z" fill="#ef4045"/>
<path d="M503.17 517.10L506.47 520.50L503.17 523.90L499.87 520.50Z" fill="#ef4045"/>
<path d="M510.66 517.10L513.96 520.50L510.66 523.90L507.36 520.50Z" fill="#ef4045"/>
<path d="M518.16 517.10L521.46 520.50L518.16 523.90L514.86 520.50Z" fill="#ef4045"/>
<path d="M525.66 517.10L528.96 520.50L525.66 523.90L522.36 520.50Z" fill="#ef4045"/>
<path d="M533.15 517.10L536.45 520.50L533.15 523.90L529.86 520.50Z" fill="#ef4045"/>
<path d="M540.65 517.10L543.95 520.50L540.65 523.90L537.35 520.50Z" fill="#ef4045"/>
<path d="M548.15 517.10L551.45 520.50L548.15 523.90L544.85 520.50Z" fill="#ef4045"/>
<path d="M555.65 517.10L558.95 520.50L555.65 523.90L552.35 520.50Z" fill="#ef4045"/>
<path d="M563.14 517.10L566.44 520.50L563.14 523.90L559.84 520.50Z" fill="#ef4045"/>
<path d="M570.64 517.10L573.94 520.50L570.64 523.90L567.34 520.50Z" fill="#ef4045"/>
<path d="M578.14 517.10L581.44 520.50L578.14 523.90L574.84 520.50Z" fill="#ef4045"/>
<path d="M585.63 517.10L588.93 520.50L585.63 523.90L582.33 520.50Z" fill="#ef4045"/>
<path d="M593.13 517.10L596.43 520.50L593.13 523.90L589.83 520.50Z" fill="#ef4045"/>
<path d="M600.63 517.10L603.93 520.50L600.63 523.90L597.33 520.50Z" fill="#ef4045"/>
<path d="M608.12 517.10L611.42 520.50L608.12 523.90L604.83 520.50Z" fill="#ef4045"/>
<path d="M615.62 517.10L618.92 520.50L615.62 523.90L612.32 520.50Z" fill="#ef4045"/>
<path d="M623.12 517.10L626.42 520.50L623.12 523.90L619.82 520.50Z" fill="#ef4045"/>
<path d="M630.62 517.10L633.92 520.50L630.62 523.90L627.32 520.50Z" fill="#ef4045"/>
<path d="M638.11 517.10L641.41 520.50L638.11 523.90L634.81 520.50Z" fill="#ef4045"/>
<path d="M645.61 517.10L648.91 520.50L645.61 523.90L642.31 520.50Z" fill="#ef4045"/>
<line x1="401.70" y1="331.93" x2="401.70" y2="547.80" stroke="#2b2b2b" stroke-width="1.2"/>
<line x1="397.60" y1="545.50" x2="664.35" y2="545.50" stroke="#2b2b2b" stroke-width="1.2"/>
<line x1="397.70" y1="545.64" x2="401.70" y2="545.64" stroke="#2b2b2b" stroke-width="1"/>
<text x="371.64" y="548.83" font-family="Liberation Sans" font-size="9.10" fill="#222">−0.05</text>
<line x1="399.70" y1="533.07" x2="401.70" y2="533.07" stroke="#2b2b2b" stroke-width="1"/>
<line x1="397.70" y1="520.50" x2="401.70" y2="520.50" stroke="#2b2b2b" stroke-width="1"/>
<text x="376.96" y="523.68" font-family="Liberation Sans" font-size="9.10" fill="#222">0.00</text>
<line x1="399.70" y1="507.93" x2="401.70" y2="507.93" stroke="#2b2b2b" stroke-width="1"/>
<line x1="397.70" y1="495.36" x2="401.70" y2="495.36" stroke="#2b2b2b" stroke-width="1"/>
<text x="376.96" y="498.54" font-family="Liberation Sans" font-size="9.10" fill="#222">0.05</text>
<line x1="399.70" y1="482.79" x2="401.70" y2="482.79" stroke="#2b2b2b" stroke-width="1"/>
<line x1="397.70" y1="470.21" x2="401.70" y2="470.21" stroke="#2b2b2b" stroke-width="1"/>
<text x="376.96" y="473.40" font-family="Liberation Sans" font-size="9.10" fill="#222">0.10</text>
<line x1="399.70" y1="457.64" x2="401.70" y2="457.64" stroke="#2b2b2b" stroke-width="1"/>
<line x1="397.70" y1="445.07" x2="401.70" y2="445.07" stroke="#2b2b2b" stroke-width="1"/>
<text x="376.96" y="448.26" font-family="Liberation Sans" font-size="9.10" fill="#222">0.15</text>
<line x1="399.70" y1="432.50" x2="401.70" y2="432.50" stroke="#2b2b2b" stroke-width="1"/>
<line x1="397.70" y1="419.93" x2="401.70" y2="419.93" stroke="#2b2b2b" stroke-width="1"/>
<text x="376.96" y="423.11" font-family="Liberation Sans" font-size="9.10" fill="#222">0.20</text>
<line x1="399.70" y1="407.36" x2="401.70" y2="407.36" stroke="#2b2b2b" stroke-width="1"/>
<line x1="397.70" y1="394.78" x2="401.70" y2="394.78" stroke="#2b2b2b" stroke-width="1"/>
<text x="376.96" y="397.97" font-family="Liberation Sans" font-size="9.10" fill="#222">0.25</text>
<line x1="399.70" y1="382.21" x2="401.70" y2="382.21" stroke="#2b2b2b" stroke-width="1"/>
<line x1="397.70" y1="369.64" x2="401.70" y2="369.64" stroke="#2b2b2b" stroke-width="1"/>
<text x="376.96" y="372.83" font-family="Liberation Sans" font-size="9.10" fill="#222">0.30</text>
<line x1="399.70" y1="357.07" x2="401.70" y2="357.07" stroke="#2b2b2b" stroke-width="1"/>
<line x1="397.70" y1="344.50" x2="401.70" y2="344.50" stroke="#2b2b2b" stroke-width="1"/>
<text x="376.96" y="347.68" font-family="Liberation Sans" font-size="9.10" fill="#222">0.35</text>
<line x1="399.70" y1="331.93" x2="401.70" y2="331.93" stroke="#2b2b2b" stroke-width="1"/>
<line x1="401.96" y1="545.50" x2="401.96" y2="547.50" stroke="#2b2b2b" stroke-width="1"/>
<line x1="420.70" y1="545.50" x2="420.70" y2="549.50" stroke="#2b2b2b" stroke-width="1"/>
<text x="418.17" y="559.70" font-family="Liberation Sans" font-size="9.10" fill="#222">0</text>
<line x1="439.44" y1="545.50" x2="439.44" y2="547.50" stroke="#2b2b2b" stroke-width="1"/>
<line x1="458.19" y1="545.50" x2="458.19" y2="549.50" stroke="#2b2b2b" stroke-width="1"/>
<text x="455.66" y="559.70" font-family="Liberation Sans" font-size="9.10" fill="#222">5</text>
<line x1="476.93" y1="545.50" x2="476.93" y2="547.50" stroke="#2b2b2b" stroke-width="1"/>
<line x1="495.67" y1="545.50" x2="495.67" y2="549.50" stroke="#2b2b2b" stroke-width="1"/>
<text x="490.46" y="559.70" font-family="Liberation Sans" font-size="9.10" fill="#222">10</text>
<line x1="514.41" y1="545.50" x2="514.41" y2="547.50" stroke="#2b2b2b" stroke-width="1"/>
<line x1="533.15" y1="545.50" x2="533.15" y2="549.50" stroke="#2b2b2b" stroke-width="1"/>
<text x="527.95" y="559.70" font-family="Liberation Sans" font-size="9.10" fill="#222">15</text>
<line x1="551.90" y1="545.50" x2="551.90" y2="547.50" stroke="#2b2b2b" stroke-width="1"/>
<line x1="570.64" y1="545.50" x2="570.64" y2="549.50" stroke="#2b2b2b" stroke-width="1"/>
<text x="565.54" y="559.70" font-family="Liberation Sans" font-size="9.10" fill="#222">20</text>
<line x1="589.38" y1="545.50" x2="589.38" y2="547.50" stroke="#2b2b2b" stroke-width="1"/>
<line x1="608.12" y1="545.50" x2="608.12" y2="549.50" stroke="#2b2b2b" stroke-width="1"/>
<text x="603.03" y="559.70" font-family="Liberation Sans" font-size="9.10" fill="#222">25</text>
<line x1="626.87" y1="545.50" x2="626.87" y2="547.50" stroke="#2b2b2b" stroke-width="1"/>
<line x1="645.61" y1="545.50" x2="645.61" y2="549.50" stroke="#2b2b2b" stroke-width="1"/>
<text x="640.56" y="559.70" font-family="Liberation Sans" font-size="9.10" fill="#222">30</text>
<line x1="664.35" y1="545.50" x2="664.35" y2="547.50" stroke="#2b2b2b" stroke-width="1"/>
<line x1="105.30" y1="10.50" x2="224.30" y2="10.50" stroke="#222" stroke-width="1"/>
<text x="105.80" y="19.80" font-family="Liberation Sans" font-size="10.61" fill="#222">1D CNN Accuracy Graph</text>
<line x1="471.90" y1="9.50" x2="563.00" y2="9.50" stroke="#222" stroke-width="1"/>
<text x="472.34" y="18.60" font-family="Liberation Sans" font-size="10.15" fill="#222">1D CNN Loss graph</text>
<line x1="109.10" y1="317.50" x2="207.70" y2="317.50" stroke="#222" stroke-width="1"/>
<text x="108.58" y="327.00" font-family="Liberation Sans" font-size="10.33" fill="#222">GRU Accuracy Graph</text>
<line x1="490.90" y1="319.50" x2="576.00" y2="319.50" stroke="#222" stroke-width="1"/>
<text x="490.64" y="329.20" font-family="Liberation Sans" font-size="11.11" fill="#222">GRU Loss Graph</text>
<line x1="149.90" y1="247.50" x2="180.00" y2="247.50" stroke="#222" stroke-width="1"/>
<text x="149.23" y="256.80" font-family="Liberation Sans" font-size="10.86" fill="#222">Epoch</text>
<line x1="503.10" y1="238.50" x2="532.00" y2="238.50" stroke="#222" stroke-width="1"/>
<text x="503.08" y="247.60" font-family="Liberation Sans" font-size="10.30" fill="#222">Epoch</text>
<line x1="143.90" y1="548.00" x2="173.10" y2="548.00" stroke="#666" stroke-width="1.8"/>
<text x="143.46" y="557.00" font-family="Liberation Sans" font-size="10.52" fill="#222">Epoch</text>
<line x1="517.50" y1="567.50" x2="548.80" y2="567.50" stroke="#222" stroke-width="1"/>
<text x="517.21" y="576.80" font-family="Liberation Sans" font-size="11.15" fill="#222">Epoch</text>
<line x1="1.50" y1="102.30" x2="1.50" y2="146.10" stroke="#222" stroke-width="1"/>
<text transform="translate(10.90,145.85) rotate(-90)" font-family="Liberation Sans" font-size="10.56" fill="#222">Accuracy</text>
<line x1="360.60" y1="108.90" x2="360.60" y2="130.60" stroke="#222" stroke-width="1"/>
<text transform="translate(370.00,130.63) rotate(-90)" font-family="Liberation Sans" font-size="10.33" fill="#222">Loss</text>
<line x1="0.60" y1="407.30" x2="0.60" y2="449.80" stroke="#222" stroke-width="1.2"/>
<text transform="translate(9.90,449.35) rotate(-90)" font-family="Liberation Sans" font-size="10.12" fill="#222">Accuracy</text>
<line x1="357.50" y1="426.80" x2="357.50" y2="449.80" stroke="#222" stroke-width="1"/>
<text transform="translate(367.60,450.18) rotate(-90)" font-family="Liberation Sans" font-size="11.03" fill="#222">Loss</text>
<g clip-path="url(#clipA)">
<line x1="247.90" y1="0.00" x2="247.90" y2="29.00" stroke="#b0b0b0" stroke-width="1.3"/>
<line x1="248.00" y1="0.50" x2="325.00" y2="0.50" stroke="#555" stroke-width="1"/>
<line x1="248.00" y1="28.50" x2="325.00" y2="28.50" stroke="#8a8a8a" stroke-width="1"/>
<line x1="249.00" y1="7.60" x2="272.90" y2="7.60" stroke="#8a8a8a" stroke-width="1.5"/>
<path d="M257.80 5.97L264.00 5.97L260.90 11.17Z" fill="#5a5a5a"/>
<line x1="249.00" y1="21.20" x2="272.90" y2="21.20" stroke="#f58082" stroke-width="1.5"/>
<path d="M257.80 19.17L264.00 19.17L260.90 24.37Z" fill="#ef4045"/>
<line x1="272.90" y1="2.50" x2="319.00" y2="2.50" stroke="#222" stroke-width="1"/>
<text x="276.05" y="11.80" font-family="Liberation Sans" font-size="10.35" fill="#222">Accuracy</text>
<line x1="272.90" y1="15.50" x2="325.00" y2="15.50" stroke="#222" stroke-width="1"/>
<text x="276.25" y="24.60" font-family="Liberation Sans" font-size="10.35" fill="#222">Val Accuracy</text>
</g>
<rect x="597.8" y="0.6" width="66.6" height="26.6" rx="1" fill="none" stroke="#9a9a9a" stroke-width="1"/>
<line x1="599.10" y1="7.30" x2="621.80" y2="7.30" stroke="#777" stroke-width="1.1"/>
<path d="M607.80 6.20L613.00 6.20L610.40 10.40Z" fill="#5a5a5a"/>
<line x1="599.10" y1="19.90" x2="621.80" y2="19.90" stroke="#f25a5d" stroke-width="1.4"/>
<path d="M607.80 18.27L613.00 18.27L610.40 22.87Z" fill="#ef4045"/>
<line x1="622.10" y1="1.90" x2="645.80" y2="1.90" stroke="#999" stroke-width="1.8"/>
<text x="624.17" y="10.80" font-family="Liberation Sans" font-size="10.43" fill="#222">Loss</text>
<line x1="621.80" y1="14.50" x2="663.80" y2="14.50" stroke="#222" stroke-width="1"/>
<text x="624.95" y="23.00" font-family="Liberation Sans" font-size="10.30" fill="#222">Val Loss</text>
<g clip-path="url(#clipC)">
<rect x="239.3" y="308.5" width="100" height="27" fill="none" stroke="#999" stroke-width="1"/>
<line x1="239.00" y1="308.00" x2="239.00" y2="336.00" stroke="#b8b8b8" stroke-width="1.6"/>
<line x1="240.00" y1="315.60" x2="262.90" y2="315.60" stroke="#777" stroke-width="1.1"/>
<path d="M251.20 312.30L254.00 315.40L251.20 318.50L248.40 315.40Z" fill="#5a5a5a"/>
<line x1="240.00" y1="328.10" x2="262.90" y2="328.10" stroke="#f15a5e" stroke-width="1.4"/>
<path d="M251.20 324.80L254.00 328.00L251.20 331.20L248.40 328.00Z" fill="#ef4045"/>
<line x1="262.90" y1="309.80" x2="307.90" y2="309.80" stroke="#888" stroke-width="1.8"/>
<text x="266.05" y="319.10" font-family="Liberation Sans" font-size="10.00" fill="#222">Accuracy</text>
<line x1="262.90" y1="322.50" x2="325.00" y2="322.50" stroke="#222" stroke-width="1"/>
<text x="266.55" y="331.40" font-family="Liberation Sans" font-size="10.13" fill="#222">Val Accuracy</text>
</g>
<rect x="620" y="309.6" width="80" height="28.6" rx="1.5" fill="none" stroke="#999" stroke-width="1"/>
<line x1="621.10" y1="316.40" x2="646.20" y2="316.40" stroke="#777" stroke-width="1.1"/>
<path d="M633.40 313.40L636.60 316.40L633.40 319.40L630.20 316.40Z" fill="#5a5a5a"/>
<line x1="621.10" y1="330.60" x2="646.20" y2="330.60" stroke="#f04a4f" stroke-width="1.2"/>
<path d="M633.40 327.40L636.60 330.50L633.40 333.60L630.20 330.50Z" fill="#ef4045"/>
<line x1="646.20" y1="311.20" x2="672.20" y2="311.20" stroke="#888" stroke-width="1.8"/>
<text x="649.51" y="320.90" font-family="Liberation Sans" font-size="11.10" fill="#222">Loss</text>
<line x1="646.20" y1="324.50" x2="686.00" y2="324.50" stroke="#222" stroke-width="1"/>
<text x="649.24" y="334.20" font-family="Liberation Sans" font-size="11.10" fill="#222">Val Loss</text>
<text x="136.35" y="291.60" font-family="Liberation Serif" font-size="14.40" fill="#111" textLength="17.10" lengthAdjust="spacingAndGlyphs">(a)</text>
<text x="502.49" y="291.60" font-family="Liberation Serif" font-size="14.40" fill="#111" textLength="17.97" lengthAdjust="spacingAndGlyphs">(b)</text>
<text x="136.35" y="612.30" font-family="Liberation Serif" font-size="14.40" fill="#111" textLength="17.10" lengthAdjust="spacingAndGlyphs">(c)</text>
<text x="502.49" y="612.30" font-family="Liberation Serif" font-size="14.40" fill="#111" textLength="17.97" lengthAdjust="spacingAndGlyphs">(d)</text>
</svg>
</body></html>
